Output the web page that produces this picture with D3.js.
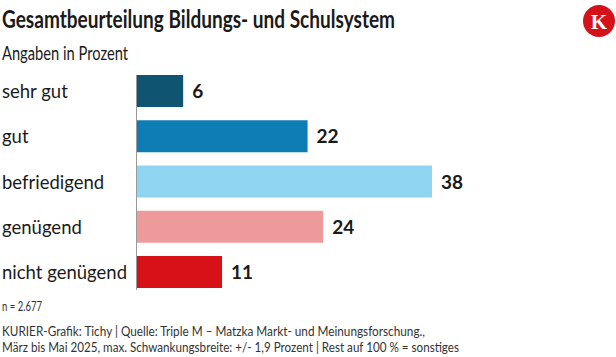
<!DOCTYPE html>
<html><head><meta charset="utf-8">
<script src="https://cdn.jsdelivr.net/npm/d3@7"></script>
<style>
body{margin:0;background:#fff;}
svg{display:block;font-family:Lato,"Noto Sans",sans-serif;}
</style></head>
<body>
<svg id="c" width="616" height="357"></svg>
<script>
const categories = ["sehr gut","gut","befriedigend","genügend","nicht genügend"];
const values = [6,22,38,24,11];
const colors = ["#0f5470","#0e7db5","#8fd4f0","#ef9a9a","#d81018"];
const title = "Gesamtbeurteilung Bildungs- und Schulsystem";
const subtitle = "Angaben in Prozent";
const note = "n = 2.677";
const source = ["KURIER-Grafik: Tichy | Quelle: Triple M – Matzka Markt- und Meinungsforschung.,",
  "März bis Mai 2025, max. Schwankungsbreite: +/- 1,9 Prozent | Rest auf 100 % = sonstiges"];

const svg = d3.select("#c");
function squeeze(sel, w){
  sel.attr("textLength", w).attr("lengthAdjust","spacingAndGlyphs");
}

squeeze(svg.append("text").attr("x",2).attr("y",28).attr("font-size",24).attr("font-weight",700)
  .attr("fill","#1a1a1a").text(title), 393);
squeeze(svg.append("text").attr("x",2).attr("y",60).attr("font-size",18.5)
  .attr("fill","#1a1a1a").text(subtitle), 126);

// logo
svg.append("circle").attr("cx",599).attr("cy",21).attr("r",16).attr("fill","#d5121a");
svg.append("text").attr("x",599).attr("y",28.5).attr("text-anchor","middle")
  .attr("font-family","'Liberation Serif',serif").attr("font-size",21).attr("font-weight",700)
  .attr("fill","#fff").text("K");

const x = d3.scaleLinear().domain([0,38]).range([136.5,432]);
const y = d3.scaleBand().domain(categories).range([75,288]).paddingInner(0.293).paddingOuter(0);

svg.selectAll("rect.bar").data(categories).join("rect").attr("class","bar")
  .attr("x",x(0)).attr("y",d=>y(d)).attr("height",y.bandwidth())
  .attr("width",(d,i)=>x(values[i])-x(0)).attr("fill",(d,i)=>colors[i]);

svg.append("line").attr("x1",x(0)).attr("x2",x(0)).attr("y1",75).attr("y2",290)
  .attr("stroke","#999").attr("stroke-width",1);

const cats = svg.selectAll("text.cat").data(categories).join("text").attr("class","cat")
  .attr("x",2).attr("y",d=>y(d)+y.bandwidth()/2+7).attr("font-size",19)
  .attr("fill","#1a1a1a").text(d=>d);
const lens = cats.nodes().map(n=>n.getComputedTextLength());
const k = 125/lens[lens.length-1];
cats.each(function(d,i){ squeeze(d3.select(this), lens[i]*k); });

svg.selectAll("text.val").data(categories).join("text").attr("class","val")
  .attr("x",(d,i)=>x(values[i])+9).attr("y",d=>y(d)+y.bandwidth()/2+7)
  .attr("font-size",19).attr("font-weight",700).attr("fill","#1a1a1a").text((d,i)=>values[i]);

squeeze(svg.append("text").attr("x",2).attr("y",311).attr("font-size",12.5).attr("fill","#333").text(note),40);
source.forEach((s,i)=>{
  const t = svg.append("text").attr("x",2).attr("y",336+i*16).attr("font-size",13).attr("fill","#333").text(s);
  squeeze(t, i==0?423:457);
});
</script>
</body></html>
